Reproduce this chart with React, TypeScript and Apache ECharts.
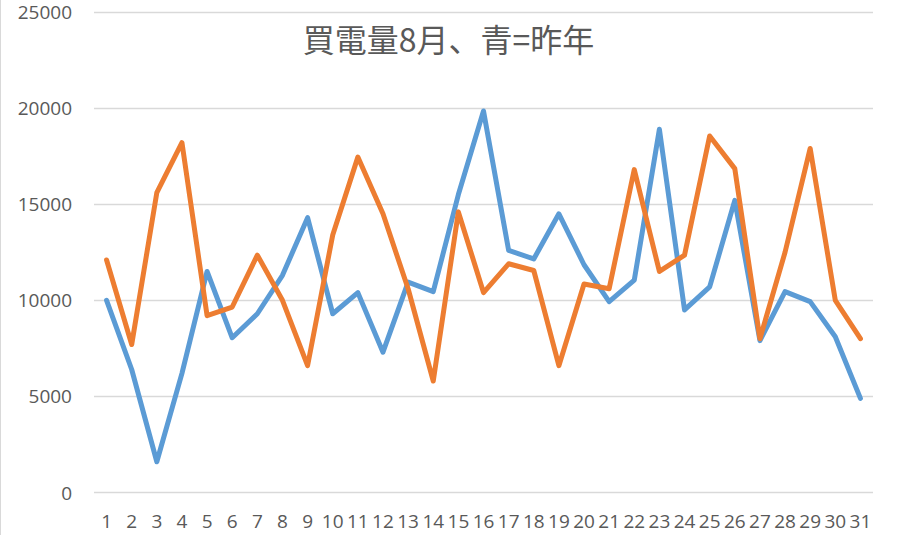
import React, { useEffect, useRef } from "react";
import * as echarts from "echarts";

const days = Array.from({ length: 31 }, (_, i) => String(i + 1));
const lastYear = [10000, 6400, 1600, 6200, 11500, 8050, 9300, 11300, 14300, 9300, 10400, 7300, 10950, 10450, 15500, 19850, 12600, 12150, 14500, 11850, 9930, 11050, 18900, 9500, 10700, 15200, 7900, 10450, 9930, 8100, 4900];
const thisYear = [12100, 7700, 15600, 18200, 9200, 9650, 12350, 10000, 6600, 13400, 17450, 14500, 10600, 5800, 14600, 10400, 11900, 11550, 6600, 10850, 10600, 16800, 11500, 12350, 18550, 16850, 8000, 12500, 17900, 10000, 8000];
const titleText = "買電量8月、青=昨年";

export default function App() {
  const ref = useRef<HTMLDivElement>(null);
  useEffect(() => {
    document.body.style.margin = "0";
    const chart = echarts.init(ref.current!, null, { renderer: "svg" });
    chart.setOption({
      animation: false,
      backgroundColor: "#ffffff",
      title: {
        text: titleText,
        left: "center",
        top: 17,
        textStyle: {
          fontFamily: "Noto Sans CJK JP",
          fontSize: 32,
          fontWeight: "normal",
          color: "#595959",
        },
      },
      graphic: [
        {
          type: "line",
          shape: { x1: 0.5, y1: 0, x2: 0.5, y2: 535 },
          style: { stroke: "#D9D9D9", lineWidth: 1 },
        },
      ],
      grid: { left: 94, right: 24, top: 12, bottom: 42.5 },
      xAxis: {
        type: "category",
        data: days,
        boundaryGap: true,
        axisLine: { show: false },
        axisTick: { show: false },
        axisLabel: {
          interval: 0,
          margin: 19,
          fontSize: 19,
          fontFamily: "Open Sans",
          color: "#595959",
        },
      },
      yAxis: {
        type: "value",
        min: 0,
        max: 25000,
        interval: 5000,
        axisLine: { show: false },
        axisTick: { show: false },
        splitLine: { lineStyle: { color: "#D9D9D9", width: 1.3 } },
        axisLabel: {
          margin: 22,
          fontSize: 19,
          fontFamily: "Open Sans",
          color: "#595959",
          formatter: (v: number) => String(v),
        },
      },
      series: [
        {
          name: "昨年",
          type: "line",
          data: lastYear,
          symbol: "none",
          lineStyle: { color: "#5B9BD5", width: 5, cap: "round", join: "round" },
          itemStyle: { color: "#5B9BD5" },
        },
        {
          name: "今年",
          type: "line",
          data: thisYear,
          symbol: "none",
          lineStyle: { color: "#ED7D31", width: 5, cap: "round", join: "round" },
          itemStyle: { color: "#ED7D31" },
        },
      ],
    });
    return () => chart.dispose();
  }, []);
  return (
    <div
      ref={ref}
      style={{ position: "absolute", left: 0, top: 0, width: 897, height: 535 }}
    />
  );
}
